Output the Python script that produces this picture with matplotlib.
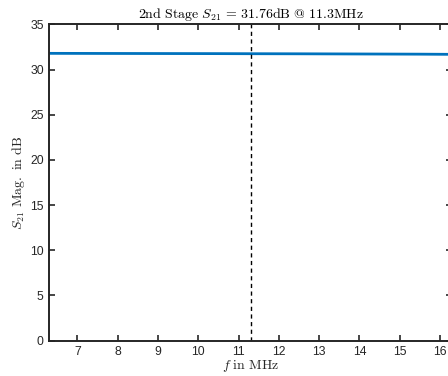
import matplotlib
matplotlib.use('Agg')
import matplotlib.pyplot as plt

# frequency in MHz and S21 magnitude in dB
freq = [6.3, 7.5, 9.0, 10.5, 11.3, 12.5, 14.0, 15.5, 16.3]
s21 = [31.80, 31.79, 31.78, 31.77, 31.76, 31.75, 31.73, 31.71, 31.69]
f_mark = 11.3
s21_mark = 31.76

xticks = list(range(7, 17))
yticks = list(range(0, 36, 5))

plt.rcParams['font.family'] = ['Liberation Sans', 'DejaVu Sans']
plt.rcParams['mathtext.fontset'] = 'cm'

axcol = (0.15, 0.15, 0.15)

fig = plt.figure(figsize=(4.48, 3.76), dpi=100)
ax = fig.add_axes([0.110, 0.094, 0.899, 0.841])

ax.plot(freq, s21, color='#0072BD', lw=2.0)
ax.axvline(f_mark, color='k', ls='--', lw=1.0, dashes=(3, 2.5))

ax.set_xlim(6.3, 16.3)
ax.set_ylim(0, 35)
ax.set_xticks(xticks)
ax.set_yticks(yticks)

ax.tick_params(direction='in', length=4, width=1.2, top=True, right=True,
               labelsize=8.8, colors=axcol, pad=4)
for s in ax.spines.values():
    s.set_linewidth(1.4)
    s.set_color(axcol)

ax.set_title(r'$\mathrm{2nd\ Stage}\ S_{21}\,=\,%.2f\mathrm{dB}\ @\ %.1f\mathrm{MHz}$' % (s21_mark, f_mark),
             fontsize=10, pad=4.5, color='k')
ax.set_xlabel(r'$f\ \mathrm{in\ MHz}$', fontsize=10, labelpad=0, color=axcol)
ax.set_ylabel(r'$S_{21}\ \mathrm{Mag.\ in\ dB}$', fontsize=10, labelpad=2, color=axcol)

plt.savefig('out.png', dpi=100)
